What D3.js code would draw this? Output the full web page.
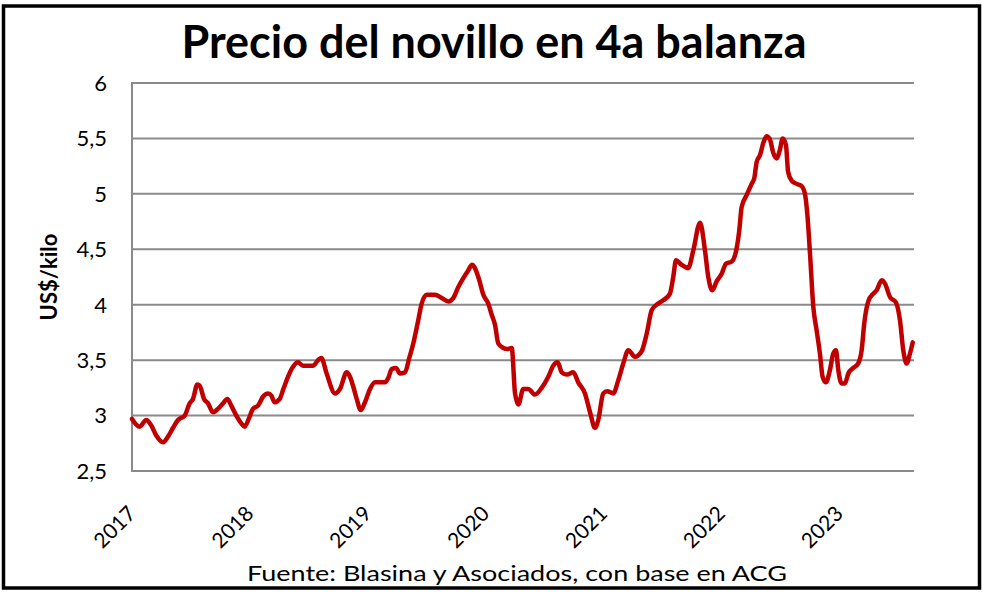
<!DOCTYPE html>
<html><head><meta charset="utf-8">
<script src="https://cdn.jsdelivr.net/npm/d3@7"></script>
<style>body{margin:0;background:#fff}svg{display:block}</style>
</head><body>
<svg id="c" width="983" height="592"></svg>
<script>
// Fecha (año decimal) y precio US$/kilo
const fechas = [2017.000,2017.065,2017.121,2017.164,2017.206,2017.263,2017.305,2017.348,2017.390,2017.447,2017.489,2017.517,2017.554,2017.574,2017.611,2017.645,2017.687,2017.729,2017.772,2017.808,2017.842,2017.885,2017.927,2017.956,2017.990,
2018.026,2018.069,2018.111,2018.154,2018.182,2018.210,2018.253,2018.281,2018.323,2018.366,2018.408,2018.450,2018.535,2018.578,2018.606,2018.651,2018.722,2018.764,2018.821,2018.849,2018.877,2018.906,2018.940,2018.976,
2019.019,2019.061,2019.146,2019.174,2019.203,2019.239,2019.273,2019.316,2019.352,2019.386,2019.428,2019.457,2019.500,2019.570,2019.627,2019.683,2019.725,2019.768,2019.810,2019.852,2019.884,2019.909,2019.946,2019.980,
2020.022,2020.051,2020.079,2020.107,2020.149,2020.183,2020.221,2020.249,2020.277,2020.319,2020.361,2020.418,2020.475,2020.531,2020.573,2020.611,2020.645,2020.687,2020.743,2020.785,2020.842,2020.885,2020.927,2020.955,2020.997,
2021.031,2021.082,2021.125,2021.167,2021.210,2021.266,2021.323,2021.366,2021.408,2021.450,2021.506,2021.563,2021.591,2021.614,2021.662,2021.718,2021.761,2021.818,2021.860,2021.888,2021.922,2021.959,
2022.002,2022.038,2022.087,2022.123,2022.151,2022.171,2022.214,2022.256,2022.278,2022.299,2022.327,2022.355,2022.383,2022.411,2022.439,2022.468,2022.496,2022.519,2022.547,2022.565,2022.595,2022.638,2022.680,2022.708,2022.728,2022.751,2022.779,2022.807,2022.835,2022.858,2022.886,2022.920,2022.948,2022.971,2022.991,
2023.019,2023.047,2023.076,2023.118,2023.160,2023.189,2023.211,2023.245,2023.288,2023.316,2023.359,2023.387,2023.429,2023.480,2023.514,2023.542,2023.571,2023.599,2023.622];
const precios = [2.97,2.90,2.96,2.91,2.82,2.76,2.81,2.89,2.96,3.00,3.11,3.15,3.28,3.27,3.15,3.11,3.03,3.06,3.11,3.15,3.09,3.00,2.93,2.90,2.97,
3.06,3.09,3.17,3.20,3.18,3.12,3.15,3.23,3.35,3.44,3.48,3.45,3.45,3.50,3.52,3.38,3.20,3.24,3.39,3.35,3.26,3.15,3.05,3.12,
3.24,3.30,3.30,3.34,3.42,3.43,3.38,3.39,3.52,3.65,3.86,4.01,4.09,4.09,4.06,4.03,4.06,4.16,4.24,4.31,4.36,4.33,4.22,4.09,
4.01,3.91,3.82,3.65,3.61,3.60,3.61,3.20,3.10,3.24,3.24,3.19,3.25,3.35,3.45,3.48,3.39,3.37,3.39,3.30,3.20,3.03,2.89,2.96,3.20,
3.22,3.20,3.32,3.47,3.59,3.53,3.58,3.74,3.95,4.00,4.04,4.10,4.25,4.40,4.36,4.33,4.49,4.74,4.49,4.25,4.13,4.21,
4.28,4.37,4.39,4.48,4.67,4.88,4.99,5.09,5.14,5.29,5.35,5.46,5.52,5.49,5.37,5.32,5.40,5.50,5.44,5.20,5.12,5.09,5.07,5.00,4.82,4.46,3.98,3.77,3.56,3.35,3.30,3.41,3.56,3.59,3.41,
3.29,3.29,3.38,3.43,3.47,3.59,3.83,4.03,4.10,4.13,4.22,4.19,4.07,4.02,3.86,3.59,3.47,3.56,3.66];
const yTicks = [2.5,3,3.5,4,4.5,5,5.5,6];
const anios = [2017,2018,2019,2020,2021,2022,2023];
const titulo = "Precio del novillo en 4a balanza";
const ejeY = "US$/kilo";
const fuente = "Fuente: Blasina y Asociados, con base en ACG";

const data = fechas.map((f,i)=>({f, v: precios[i]}));
const svg = d3.select("#c");
const W = 983, H = 592;
const L = 132, R = 912.7, T = 83, B = 471;
const font = "Lato, 'Open Sans', sans-serif";
const loc = d3.formatLocale({decimal: ",", thousands: ".", grouping: [3], currency: ["$",""]});
const fmt = loc.format("~g");

const x = d3.scaleLinear().domain([2017, d3.max(fechas)]).range([L, R]);
const y = d3.scaleLinear().domain([2.5, 6]).range([B, T]);

svg.append("rect").attr("width", W).attr("height", H).attr("fill", "#fff");

// gridlines
svg.append("g").selectAll("line").data(yTicks).join("line")
  .attr("x1", L).attr("x2", 914)
  .attr("y1", d => y(d)).attr("y2", d => y(d))
  .attr("stroke", "#8a8a8a").attr("stroke-width", 2);
svg.append("line").attr("x1", L).attr("x2", L).attr("y1", T - 1).attr("y2", B + 1)
  .attr("stroke", "#8a8a8a").attr("stroke-width", 2);

// y tick labels
svg.append("g").selectAll("text").data(yTicks).join("text")
  .attr("x", 107).attr("y", d => y(d)).attr("dy", "0.36em")
  .attr("text-anchor", "end").attr("font-family", font).attr("font-size", 22)
  .attr("fill", "#000").text(d => fmt(d));

// x labels
svg.append("g").selectAll("text").data(anios).join("text")
  .attr("transform", d => `translate(${x(d) + 5},${B + 44}) rotate(-45)`)
  .attr("text-anchor", "end").attr("font-family", font).attr("font-size", 21)
  .attr("fill", "#000").text(d => d);

// line
svg.append("path").datum(data)
  .attr("fill", "none").attr("stroke", "#c00000").attr("stroke-width", 4.5)
  .attr("stroke-linejoin", "round").attr("stroke-linecap", "round")
  .attr("d", d3.line().x(d => x(d.f)).y(d => y(d.v)).curve(d3.curveMonotoneX));

// title
svg.append("text").attr("x", 494).attr("y", 58).attr("text-anchor", "middle")
  .attr("font-family", font).attr("font-weight", "bold").attr("font-size", 46)
  .attr("textLength", 625).attr("lengthAdjust", "spacingAndGlyphs")
  .text(titulo);

// y axis title
svg.append("text").attr("transform", `translate(57,${(T + B) / 2}) rotate(-90)`)
  .attr("text-anchor", "middle").attr("font-family", font).attr("font-weight", "bold")
  .attr("font-size", 22).text(ejeY);

// source
svg.append("text").attr("x", 517).attr("y", 581).attr("text-anchor", "middle")
  .attr("font-family", font).attr("font-size", 22)
  .attr("textLength", 540).attr("lengthAdjust", "spacingAndGlyphs")
  .text(fuente);

// frame
svg.append("rect").attr("x", 3.5).attr("y", 6).attr("width", 976).attr("height", 582)
  .attr("fill", "none").attr("stroke", "#000").attr("stroke-width", 3.5);
</script>
</body></html>
